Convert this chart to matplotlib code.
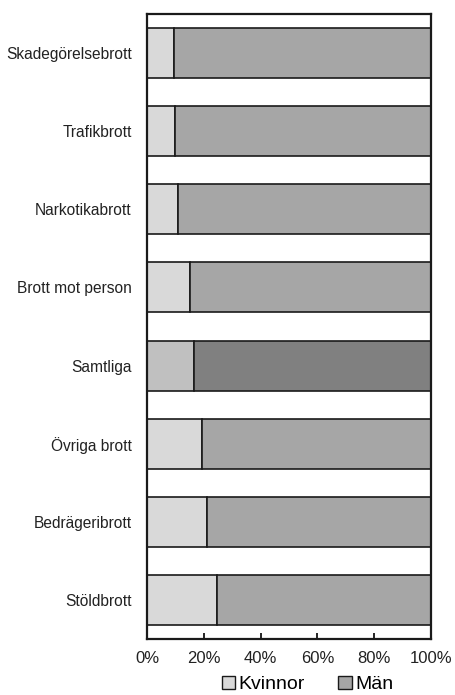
import numpy as np
import matplotlib.pyplot as plt
from matplotlib.patches import Patch

categories = ["Skadegörelsebrott", "Trafikbrott", "Narkotikabrott", "Brott mot person",
              "Samtliga", "Övriga brott", "Bedrägeribrott", "Stöldbrott"]
kvinnor = [9.5, 10.0, 11.0, 15.0, 16.5, 19.5, 21.0, 24.5]
man = [100 - k for k in kvinnor]
xticks = [0, 20, 40, 60, 80, 100]

plt.rcParams['font.family'] = ['Liberation Sans', 'DejaVu Sans']

fig = plt.figure(figsize=(4.56, 6.95), dpi=100)
ax = fig.add_axes([0.3224, 0.0806, 0.6228, 0.8993])

y = np.arange(len(categories))[::-1]
kv_col = ['#c0c0c0' if c == "Samtliga" else '#d9d9d9' for c in categories]
m_col = ['#808080' if c == "Samtliga" else '#a6a6a6' for c in categories]

ax.barh(y, kvinnor, height=0.64, color=kv_col, edgecolor='#1a1a1a', linewidth=1.2)
ax.barh(y, man, left=kvinnor, height=0.64, color=m_col, edgecolor='#1a1a1a', linewidth=1.2)

ax.set_xlim(0, 100)
ax.set_ylim(-0.5, len(categories) - 0.5)
ax.set_yticks(y)
ax.set_yticklabels(categories, fontsize=11.2, color='#222222')
ax.tick_params(axis='y', length=0, pad=11)
ax.set_xticks(xticks)
ax.set_xticklabels([f"{t}%" for t in xticks], fontsize=12, color='#222222')
ax.tick_params(axis='x', direction='in', length=4, width=1.2, pad=9)
for s in ax.spines.values():
    s.set_linewidth(1.6)
    s.set_color('#1a1a1a')

handles = [Patch(facecolor='#d9d9d9', edgecolor='#1a1a1a', label='Kvinnor'),
           Patch(facecolor='#a6a6a6', edgecolor='#1a1a1a', label='Män')]
fig.legend(handles=handles, loc='center', bbox_to_anchor=(0.674, 0.015), ncol=2,
           frameon=False, fontsize=14, handlelength=0.7, handleheight=0.7,
           handletextpad=0.15, columnspacing=1.75)

fig.savefig("out.png", dpi=100)
